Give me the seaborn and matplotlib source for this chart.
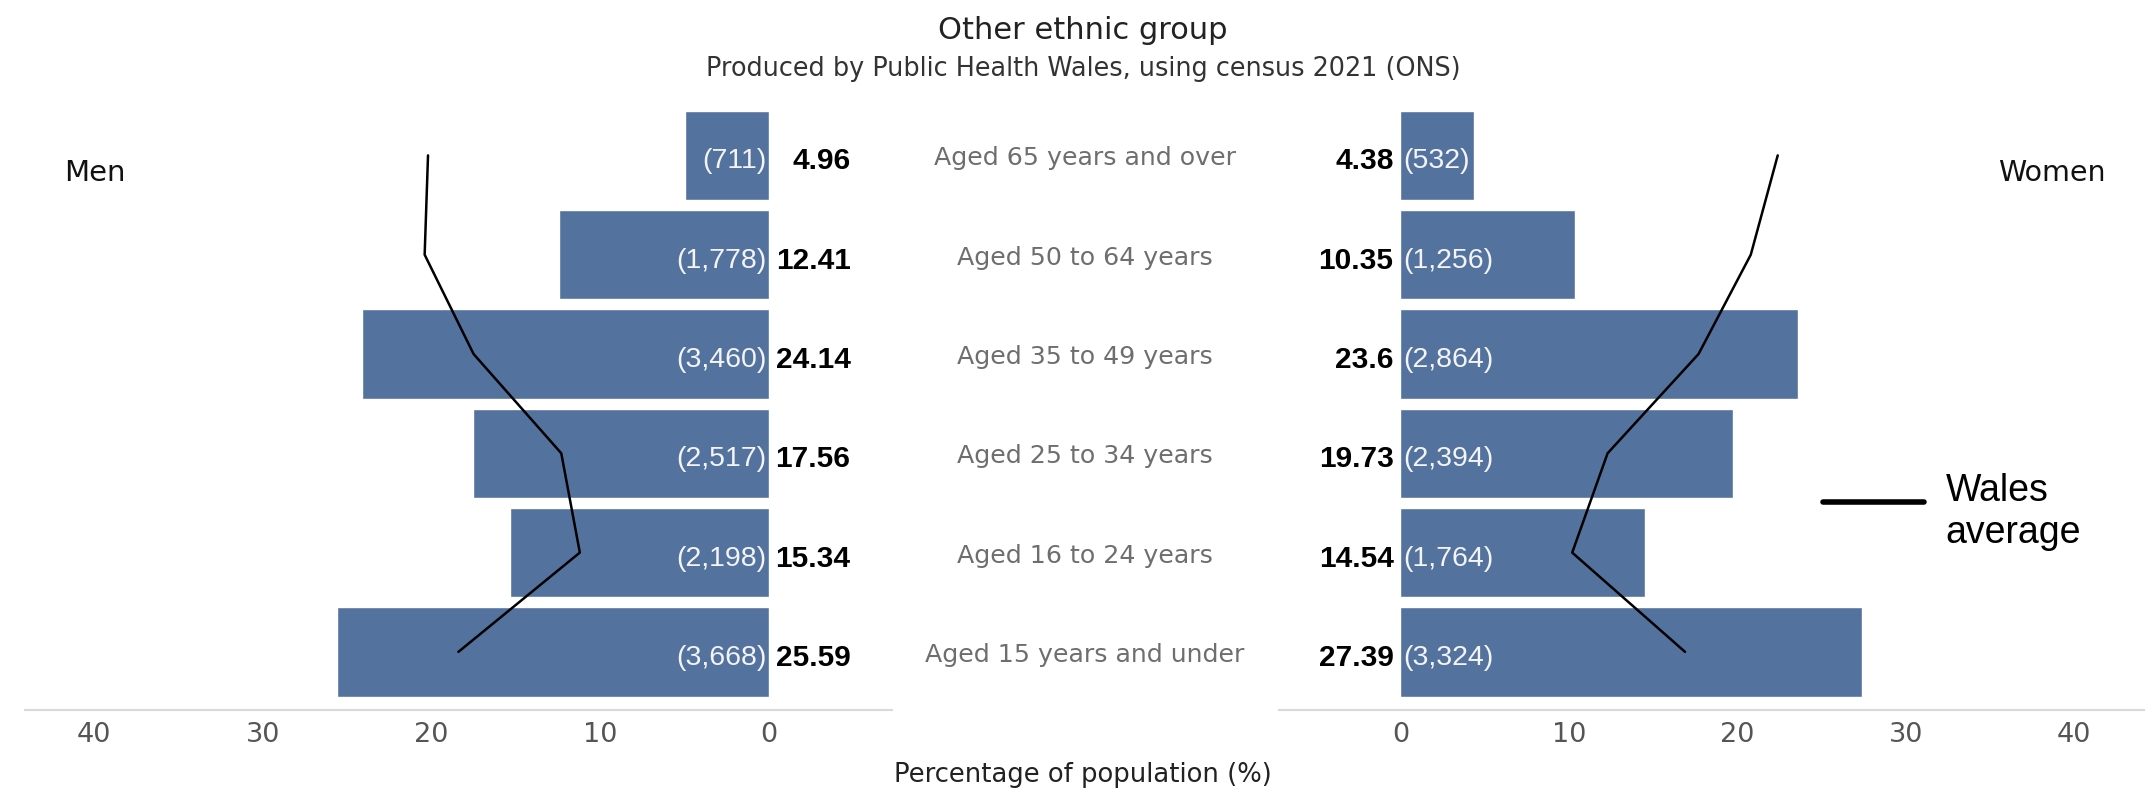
import matplotlib
matplotlib.use('Agg')
import matplotlib.pyplot as plt
import matplotlib.transforms as mtransforms
from matplotlib.lines import Line2D
import pandas as pd
import seaborn as sns

# Age bands, top to bottom as in the pyramid
ages = ['Aged 65 years and over', 'Aged 50 to 64 years', 'Aged 35 to 49 years',
        'Aged 25 to 34 years', 'Aged 16 to 24 years', 'Aged 15 years and under']

men_pct = [4.96, 12.41, 24.14, 17.56, 15.34, 25.59]
men_count = [711, 1778, 3460, 2517, 2198, 3668]
women_pct = [4.38, 10.35, 23.6, 19.73, 14.54, 27.39]
women_count = [532, 1256, 2864, 2394, 1764, 3324]

# Wales average
wales_men = [20.2, 20.4, 17.5, 12.3, 11.2, 18.4]
wales_women = [22.4, 20.8, 17.7, 12.3, 10.2, 16.9]

x_ticks = [0, 10, 20, 30, 40]

sns.set_style('white')
plt.rcParams['font.family'] = ['DejaVu Sans']

bar_color = '#53739e'
arial = 'Liberation Sans'

df = pd.DataFrame({'age': ages, 'men': men_pct, 'women': women_pct})

fig = plt.figure(figsize=(21.45, 7.9), dpi=100)
ax_m = fig.add_axes([0.0116, 0.1013, 0.4042, 0.7774])
ax_w = fig.add_axes([0.5963, 0.1013, 0.4037, 0.7774])

for ax, col, wales in [(ax_m, 'men', wales_men), (ax_w, 'women', wales_women)]:
    sns.barplot(data=df, x=col, y='age', order=ages, color=bar_color,
                saturation=1, width=0.9, ax=ax)
    ax.plot(wales, range(len(ages)), color='black', lw=1.8, zorder=5)
    ax.set_ylim(5.585, -0.6)
    ax.set_yticks([])
    ax.set_xlabel('')
    ax.set_ylabel('')
    ax.set_xticks(x_ticks)
    ax.tick_params(axis='x', length=0, labelsize=19.5, labelcolor='#555555', pad=9)
    for s in ['top', 'left', 'right']:
        ax.spines[s].set_visible(False)
    ax.spines['bottom'].set_color('#d9d9d9')
    ax.spines['bottom'].set_linewidth(1.5)

ax_m.set_xlim(44.1, -7.3)
ax_w.set_xlim(-7.2, 44.2)

# value labels
dy = 0.06
for i in range(len(ages)):
    ax_m.text(-4.85, i + dy, f'{men_pct[i]:g}', ha='right', va='center',
              fontsize=21.5, fontweight='bold', family=arial, color='black')
    ax_m.text(0.15, i + dy, f'({men_count[i]:,})', ha='right', va='center',
              fontsize=20.5, family=arial, color='#f4f4f4')
    ax_w.text(-0.4, i + dy, f'{women_pct[i]:g}', ha='right', va='center',
              fontsize=21.5, fontweight='bold', family=arial, color='black')
    ax_w.text(0.15, i + dy, f'({women_count[i]:,})', ha='left', va='center',
              fontsize=20.5, family=arial, color='#f4f4f4')

# age band names in the gap between the two panels
trans = mtransforms.blended_transform_factory(fig.transFigure, ax_m.transData)
for i, a in enumerate(ages):
    fig.text(0.5057, i + 0.03, a, transform=trans, ha='center', va='center',
             fontsize=18.2, color='#6e6e6e')

fig.text(0.505, 0.962, 'Other ethnic group', ha='center', va='center',
         fontsize=22, color='#222222')
fig.text(0.505, 0.913, 'Produced by Public Health Wales, using census 2021 (ONS)',
         ha='center', va='center', fontsize=18.4, color='#333333')
fig.text(0.505, 0.019, 'Percentage of population (%)', ha='center', va='center',
         fontsize=18.6, color='#222222')

fig.text(0.030, 0.7816, 'Men', ha='left', va='center', fontsize=21, color='#111111')
fig.text(0.9815, 0.7816, 'Women', ha='right', va='center', fontsize=20.5, color='#111111')

# legend for the Wales average line
fig.add_artist(Line2D([0.850, 0.897], [0.364, 0.364], color='black', lw=4,
                      transform=fig.transFigure))
fig.text(0.907, 0.352, 'Wales\naverage', ha='left', va='center', fontsize=27,
         family=arial, linespacing=1.2, color='black')

fig.savefig('out.png', dpi=100)
